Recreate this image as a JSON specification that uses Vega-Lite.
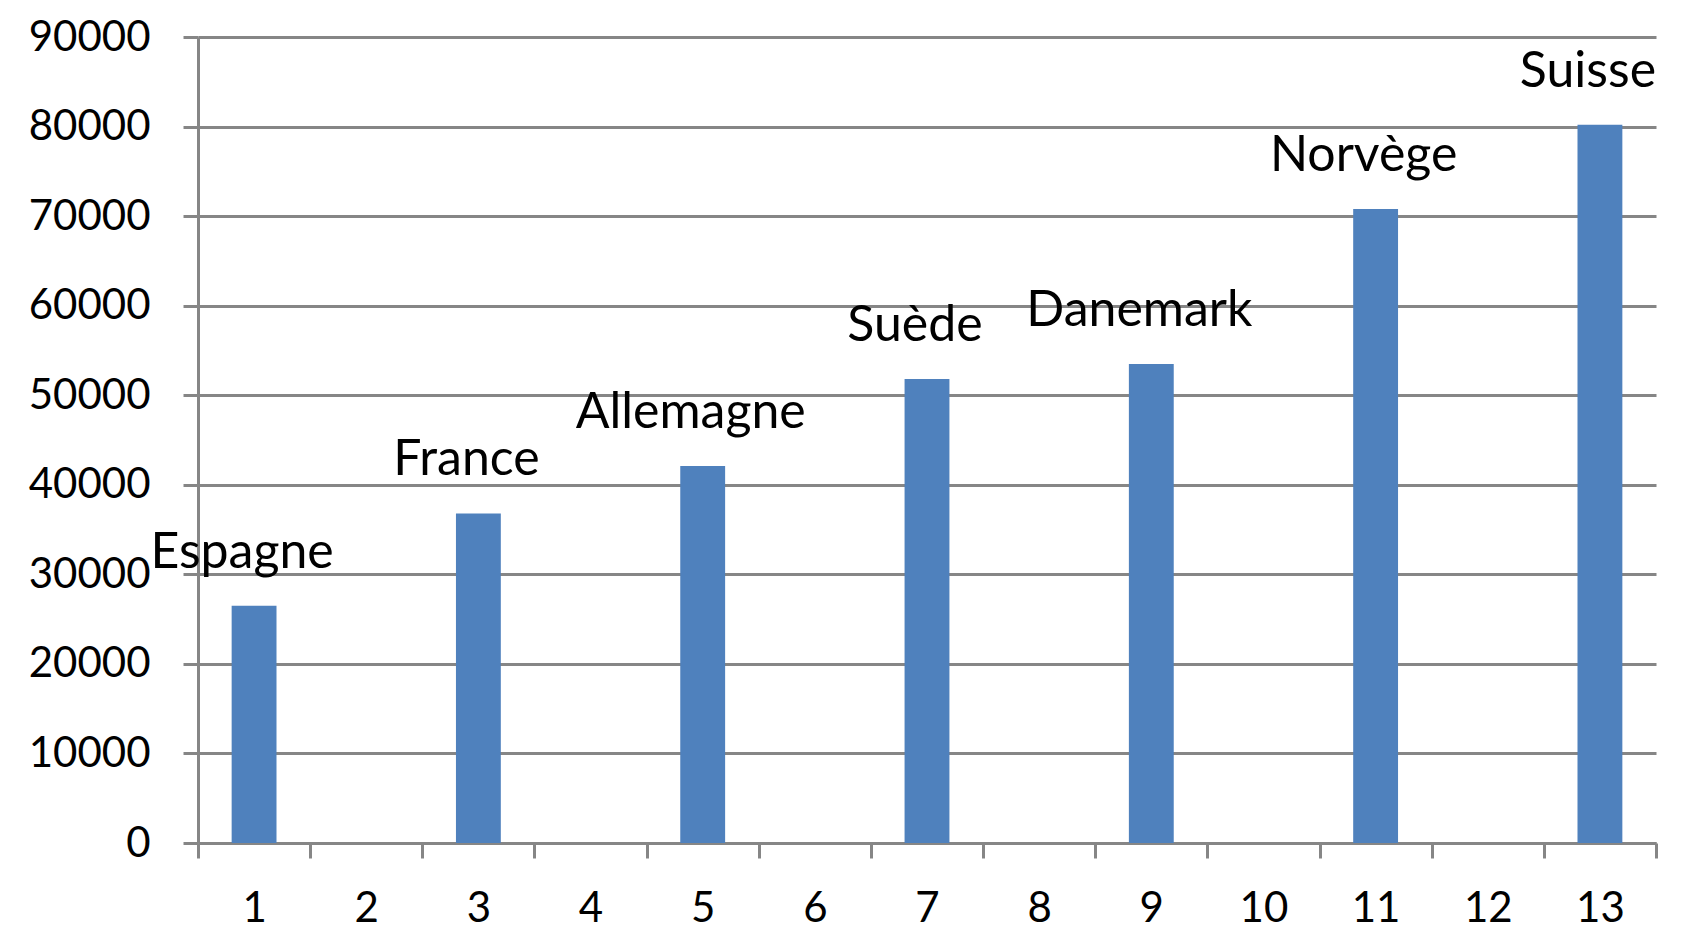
{
  "$schema": "https://vega.github.io/schema/vega-lite/v6.json",
  "autosize": {"type": "none"},
  "width": 1458,
  "height": 806,
  "padding": {"left": 198, "top": 37, "right": 27, "bottom": 104},
  "background": "white",
  "config": {"view": {"stroke": null}},
  "data": {"values": [
    {"n": 1, "value": 26500, "pays": "Espagne"},
    {"n": 3, "value": 36800, "pays": "France"},
    {"n": 5, "value": 42100, "pays": "Allemagne"},
    {"n": 7, "value": 51800, "pays": "Suède"},
    {"n": 9, "value": 53500, "pays": "Danemark"},
    {"n": 11, "value": 70800, "pays": "Norvège"},
    {"n": 13, "value": 80200, "pays": "Suisse"}
  ]},
  "encoding": {
    "x": {
      "field": "n", "type": "ordinal",
      "scale": {"domain": [1,2,3,4,5,6,7,8,9,10,11,12,13], "paddingInner": 0, "paddingOuter": 0},
      "axis": {
        "title": null, "labelAngle": 0, "tickBand": "extent", "grid": false,
        "labelFont": "Lato", "labelFontSize": 42, "labelColor": "black",
        "tickColor": "#868686", "tickWidth": 3, "tickSize": 15,
        "domainColor": "#868686", "domainWidth": 3, "labelPadding": 30
      }
    },
    "y": {
      "field": "value", "type": "quantitative",
      "scale": {"domain": [0, 90000], "nice": false},
      "axis": {
        "title": null, "values": [0,10000,20000,30000,40000,50000,60000,70000,80000,90000],
        "format": "d",
        "labelFont": "Lato", "labelFontSize": 42, "labelColor": "black",
        "tickColor": "#868686", "tickWidth": 3, "tickSize": 15,
        "domainColor": "#868686", "domainWidth": 3,
        "gridColor": "#868686", "gridWidth": 3, "labelPadding": 33
      }
    }
  },
  "layer": [
    {"mark": {"type": "bar", "color": "#4F81BD", "width": {"band": 0.4}}},
    {"mark": {"type": "text", "font": "Lato", "fontSize": 50, "color": "black", "baseline": "middle", "align": "center", "dy": -53, "dx": -12},
     "encoding": {"text": {"field": "pays"}}}
  ]
}
